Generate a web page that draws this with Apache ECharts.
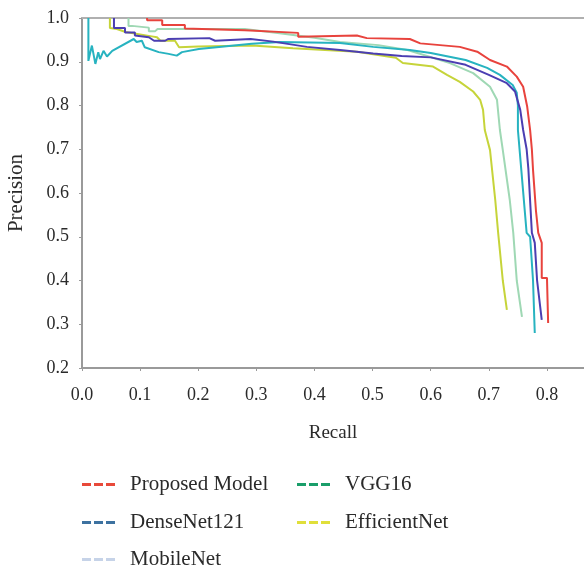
<!DOCTYPE html>
<html>
<head>
<meta charset="utf-8">
<script src="https://cdn.jsdelivr.net/npm/echarts@6/dist/echarts.min.js"></script>
<style>
html, body { margin: 0; padding: 0; background: #fff; }
#chart { width: 584px; height: 569px; }
</style>
</head>
<body>
<div id="chart"></div>
<script>
// PR curves, [recall, precision]
const proposed = [[0.112,1.0],[0.112,0.995],[0.138,0.995],[0.138,0.984],[0.177,0.984],[0.177,0.976],[0.28,0.972],[0.372,0.966],[0.372,0.957],[0.473,0.960],[0.49,0.954],[0.564,0.952],[0.582,0.942],[0.65,0.934],[0.68,0.923],[0.702,0.904],[0.731,0.889],[0.748,0.866],[0.759,0.843],[0.766,0.797],[0.771,0.744],[0.774,0.70],[0.776,0.653],[0.781,0.56],[0.785,0.509],[0.791,0.486],[0.791,0.406],[0.800,0.406],[0.802,0.303]];
const denseNet = [[0.055,1.0],[0.055,0.977],[0.074,0.977],[0.074,0.967],[0.091,0.967],[0.091,0.960],[0.115,0.956],[0.124,0.948],[0.143,0.948],[0.148,0.952],[0.219,0.954],[0.229,0.948],[0.29,0.952],[0.329,0.946],[0.387,0.934],[0.444,0.927],[0.501,0.919],[0.55,0.913],[0.60,0.91],[0.66,0.893],[0.70,0.870],[0.731,0.851],[0.745,0.832],[0.754,0.790],[0.759,0.744],[0.765,0.70],[0.768,0.655],[0.774,0.509],[0.779,0.486],[0.783,0.40],[0.791,0.31]];
const mobileNet = [[0.011,1.0],[0.011,0.902],[0.017,0.937],[0.023,0.895],[0.028,0.922],[0.031,0.906],[0.037,0.925],[0.043,0.912],[0.052,0.925],[0.089,0.952],[0.094,0.945],[0.103,0.948],[0.108,0.933],[0.132,0.922],[0.149,0.918],[0.163,0.914],[0.172,0.922],[0.201,0.929],[0.292,0.941],[0.34,0.945],[0.444,0.943],[0.501,0.934],[0.564,0.927],[0.60,0.920],[0.66,0.904],[0.697,0.886],[0.719,0.870],[0.741,0.847],[0.748,0.829],[0.75,0.80],[0.750,0.744],[0.756,0.65],[0.765,0.509],[0.771,0.50],[0.776,0.40],[0.779,0.28]];
const vgg16 = [[0.08,1.0],[0.08,0.982],[0.086,0.982],[0.086,0.978],[0.115,0.978],[0.115,0.970],[0.126,0.970],[0.13,0.975],[0.28,0.975],[0.34,0.965],[0.40,0.955],[0.444,0.945],[0.51,0.938],[0.56,0.927],[0.633,0.897],[0.673,0.874],[0.702,0.843],[0.714,0.813],[0.719,0.744],[0.724,0.698],[0.736,0.584],[0.742,0.509],[0.748,0.40],[0.757,0.317]];
const efficientNet = [[0.048,1.0],[0.048,0.977],[0.06,0.975],[0.075,0.968],[0.12,0.958],[0.129,0.956],[0.135,0.948],[0.16,0.948],[0.167,0.933],[0.2,0.935],[0.293,0.937],[0.363,0.931],[0.473,0.923],[0.54,0.909],[0.552,0.897],[0.604,0.889],[0.628,0.870],[0.650,0.854],[0.673,0.832],[0.685,0.813],[0.690,0.790],[0.693,0.744],[0.702,0.698],[0.711,0.584],[0.716,0.509],[0.724,0.40],[0.731,0.333]];

const names = ['Proposed Model', 'DenseNet121', 'MobileNet', 'VGG16', 'EfficientNet'];
const lineColors = ['#e8433d', '#4b3eb2', '#27b3c0', '#9fd8b4', '#c6d43a'];
const legendColors = ['#e8493a', '#3d72a0', '#c6d3e8', '#1a9e6a', '#e0df3a'];
const curves = [proposed, denseNet, mobileNet, vgg16, efficientNet];
// legend slot for each series: [left, top]
const legendPos = [[82, 474], [82, 512], [82, 549], [297, 474], [297, 512]];

const font = '"Liberation Serif", "DejaVu Serif", serif';
const dashIcon = 'path://M0,0h9v3h-9z M12,0h9v3h-9z M24,0h9v3h-9z';

const legends = names.map((n, i) => ({
  left: legendPos[i][0],
  top: legendPos[i][1],
  padding: 0,
  icon: dashIcon,
  itemWidth: 33,
  itemHeight: 3,
  data: [{ name: n, itemStyle: { color: legendColors[i] } }],
  textStyle: { fontFamily: font, fontSize: 21, color: '#2a2a2a', padding: [0, 0, 0, 10] }
}));

const chart = echarts.init(document.getElementById('chart'));
chart.setOption({
  animation: false,
  grid: { left: 82, top: 18, right: 0, bottom: 201, outerBoundsMode: 'none', containLabel: false },
  legend: legends,
  xAxis: [{
    type: 'value',
    min: 0,
    max: 0.8637,
    interval: 0.1,
    name: 'Recall',
    nameLocation: 'middle',
    nameGap: 56,
    nameTextStyle: { fontFamily: font, fontSize: 19, color: '#2a2a2a' },
    axisLine: { lineStyle: { color: '#9a9a9a', width: 2 } },
    axisTick: { show: true, length: 3, lineStyle: { color: '#9a9a9a' } },
    axisLabel: {
      fontFamily: font, fontSize: 18, color: '#2a2a2a', margin: 18,
      showMaxLabel: false,
      formatter: v => v > 0.81 ? '' : v.toFixed(1)
    },
    splitLine: { show: false }
  }, {
    type: 'value',
    position: 'top',
    min: 0,
    max: 0.8637,
    axisLine: { show: true, lineStyle: { color: '#b0b0b0', width: 2 } },
    axisTick: { show: false },
    axisLabel: { show: false },
    splitLine: { show: false }
  }],
  yAxis: {
    type: 'value',
    min: 0.2,
    max: 1.0,
    interval: 0.1,
    name: 'Precision',
    nameLocation: 'middle',
    nameGap: 55,
    nameTextStyle: { fontFamily: font, fontSize: 21, color: '#2a2a2a' },
    axisLine: { show: true, lineStyle: { color: '#9a9a9a', width: 2 } },
    axisTick: { show: true, length: 3, lineStyle: { color: '#9a9a9a' } },
    axisLabel: {
      fontFamily: font, fontSize: 18, color: '#2a2a2a', margin: 13,
      formatter: v => v.toFixed(1)
    },
    splitLine: { show: false }
  },
  series: curves.map((d, i) => ({
    name: names[i],
    type: 'line',
    data: d,
    symbol: 'none',
    clip: true,
    lineStyle: { color: lineColors[i], width: 2 },
    itemStyle: { color: lineColors[i] },
    z: 5 - i
  }))
});
</script>
</body>
</html>
